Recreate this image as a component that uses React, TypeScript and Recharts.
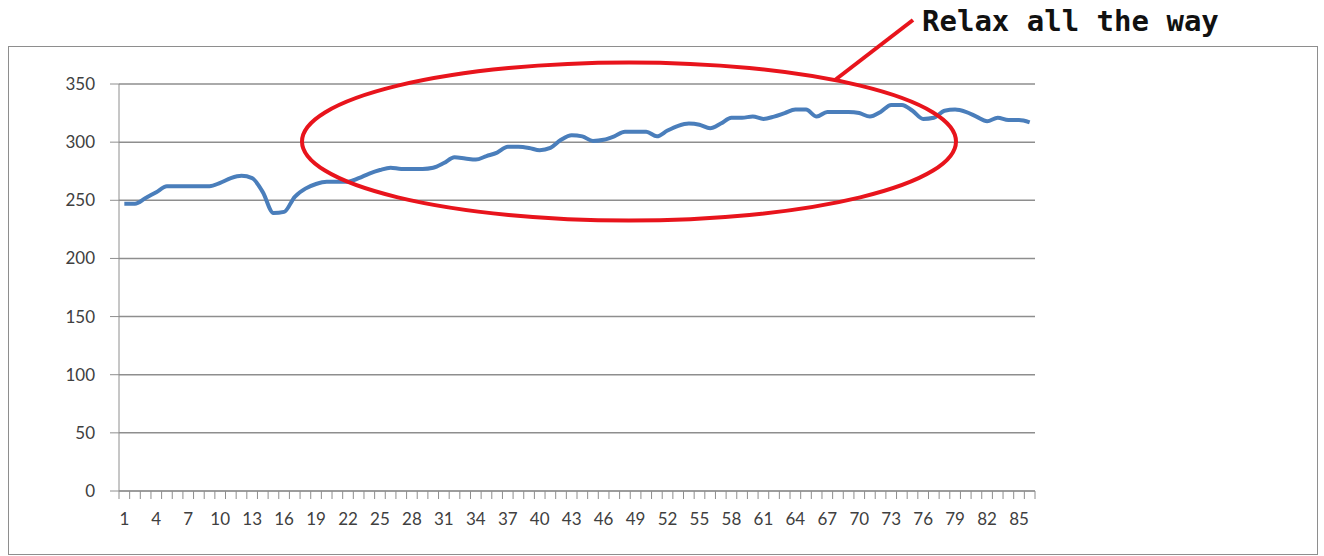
import { LineChart, Line, XAxis, YAxis, CartesianGrid } from 'recharts';

// daily values, points 1..86
const values = [
    247, 247, 252, 257, 262, 262, 262, 262, 262, 265,
    269, 271, 269, 257, 239, 240, 253, 260, 264, 266,
    266, 266, 269, 273, 276, 278, 277, 277, 277, 278,
    282, 287, 286, 285, 288, 291, 296, 296, 295, 293,
    295, 302, 306, 305, 301, 302, 305, 309, 309, 309,
    305, 310, 314, 316, 315, 312, 316, 321, 321, 322,
    320, 322, 325, 328, 328, 322, 326, 326, 326, 325,
    322, 326, 332, 332, 327, 320, 321, 327, 328, 326,
    322, 318, 321, 319, 319, 317,
];

const xLabels = [1, 4, 7, 10, 13, 16, 19, 22, 25, 28, 31, 34, 37, 40, 43, 46, 49, 52, 55, 58, 61, 64, 67, 70, 73, 76, 79, 82, 85];
const yTicks = [0, 50, 100, 150, 200, 250, 300, 350];
const annotation = 'Relax all the way';

const data = values.map((v, i) => ({ day: i + 1, value: v }));
// tick marks sit on the category boundaries, like the original
const boundaries = [...values.map((_, i) => i + 0.5), values.length + 0.5];

const gray = '#8e8e8e';
const tickFont = { fontSize: 17, fill: '#404040', fontFamily: 'Lato, sans-serif' };

export default function App() {
    return (
        <div style={{ position: 'absolute', left: 0, top: 0, width: 1324, height: 556, background: '#fff' }}>
            <div style={{ position: 'absolute', left: 8, top: 46, width: 1308, height: 507, border: `1.5px solid ${gray}` }} />
            <div style={{ position: 'absolute', left: 0, top: 0 }}>
                <LineChart width={1324} height={556} data={data} margin={{ top: 84, right: 289, bottom: 35, left: 0 }}>
                    <CartesianGrid vertical={false} stroke={gray} strokeWidth={1.5} />
                    <XAxis
                        dataKey="day"
                        type="number"
                        domain={[0.5, values.length + 0.5]}
                        ticks={boundaries}
                        interval={0}
                        height={1}
                        tickSize={8}
                        stroke={gray}
                        tickFormatter={() => ''}
                    />
                    <XAxis
                        xAxisId="labels"
                        dataKey="day"
                        type="number"
                        domain={[0.5, values.length + 0.5]}
                        ticks={xLabels}
                        interval={0}
                        height={29}
                        axisLine={false}
                        tickLine={false}
                        tickSize={0}
                        tickMargin={21}
                        tick={tickFont}
                    />
                    <YAxis
                        domain={[0, 350]}
                        ticks={yTicks}
                        width={119}
                        tickSize={9}
                        tickMargin={15}
                        stroke={gray}
                        tick={tickFont}
                    />
                    <Line
                        type="monotone"
                        dataKey="value"
                        stroke="#4a7ebb"
                        strokeWidth={4}
                        dot={false}
                        isAnimationActive={false}
                    />
                </LineChart>
            </div>
            <svg width={1324} height={556} style={{ position: 'absolute', left: 0, top: 0, pointerEvents: 'none' }}>
                <ellipse cx={629} cy={141.5} rx={327} ry={79} fill="none" stroke="#e8141c" strokeWidth={4} />
                <line x1={913} x2={835} y1={20} y2={80} stroke="#e8141c" strokeWidth={4} />
                <text x={922} y={31} fontFamily="'DejaVu Sans Mono', monospace" fontWeight="bold" fontSize={29} fill="#111">
                    {annotation}
                </text>
            </svg>
        </div>
    );
}
